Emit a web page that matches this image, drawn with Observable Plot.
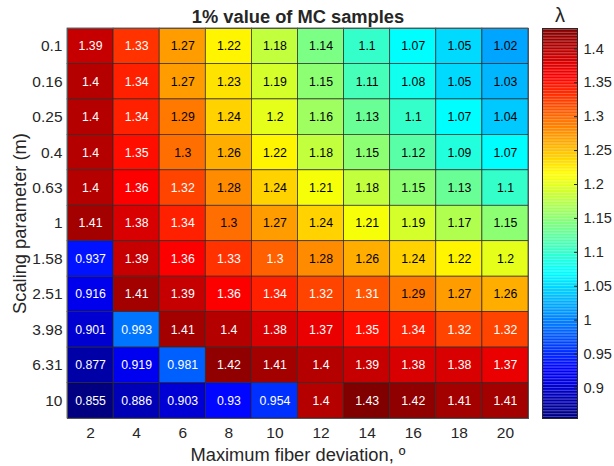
<!DOCTYPE html>
<html>
<head>
<meta charset="utf-8">
<script src="https://cdn.jsdelivr.net/npm/d3@7"></script>
<script src="https://cdn.jsdelivr.net/npm/@observablehq/plot@0.6"></script>
<style>
  html, body { margin: 0; padding: 0; background: #fff; }
  #wrap { position: relative; width: 614px; height: 466px; font-family: "Liberation Sans", Arial, sans-serif; }
  #wrap svg { position: absolute; top: 0; }
</style>
</head>
<body>
<div id="wrap"></div>
<script>
const maxDeviation = [2, 4, 6, 8, 10, 12, 14, 16, 18, 20];
const scaling = ["0.1", "0.16", "0.25", "0.4", "0.63", "1", "1.58", "2.51", "3.98", "6.31", "10"];
const row_0_1  = [1.39, 1.33, 1.27, 1.22, 1.18, 1.14, 1.1, 1.07, 1.05, 1.02];
const row_0_16 = [1.4, 1.34, 1.27, 1.23, 1.19, 1.15, 1.11, 1.08, 1.05, 1.03];
const row_0_25 = [1.4, 1.34, 1.29, 1.24, 1.2, 1.16, 1.13, 1.1, 1.07, 1.04];
const row_0_4  = [1.4, 1.35, 1.296, 1.26, 1.22, 1.18, 1.15, 1.12, 1.09, 1.07];
const row_0_63 = [1.4, 1.36, 1.32, 1.28, 1.24, 1.21, 1.18, 1.15, 1.13, 1.1];
const row_1    = [1.41, 1.38, 1.34, 1.296, 1.27, 1.24, 1.21, 1.19, 1.17, 1.15];
const row_1_58 = [0.937, 1.39, 1.36, 1.33, 1.304, 1.28, 1.26, 1.24, 1.22, 1.2];
const row_2_51 = [0.916, 1.41, 1.39, 1.36, 1.34, 1.32, 1.31, 1.29, 1.27, 1.26];
const row_3_98 = [0.901, 0.993, 1.41, 1.4, 1.38, 1.37, 1.35, 1.34, 1.32, 1.32];
const row_6_31 = [0.877, 0.919, 0.981, 1.42, 1.41, 1.4, 1.39, 1.38, 1.38, 1.37];
const row_10   = [0.855, 0.886, 0.903, 0.93, 0.954, 1.4, 1.43, 1.42, 1.41, 1.41];
const rows = [row_0_1, row_0_16, row_0_25, row_0_4, row_0_63, row_1, row_1_58, row_2_51, row_3_98, row_6_31, row_10];
const colorTicks = [0.9, 0.95, 1, 1.05, 1.1, 1.15, 1.2, 1.25, 1.3, 1.35, 1.4];
const colorLimits = [0.855, 1.43];

const table = [];
rows.forEach((r, i) => r.forEach((v, j) => table.push({x: maxDeviation[j], y: scaling[i], v})));

const clamp = (a) => Math.max(0, Math.min(1, a));
const jet = (t) => {
  const r = clamp(1.5 - Math.abs(4 * t - 3));
  const g = clamp(1.5 - Math.abs(4 * t - 2));
  const b = clamp(1.5 - Math.abs(4 * t - 1));
  return d3.rgb(r * 255, g * 255, b * 255).formatHex();
};
const colorScale = {type: "linear", domain: colorLimits, interpolate: jet, clamp: true};
const fmt = d3.format(".3~g");
const ink = "#262626";
const font = "Liberation Sans, Arial, sans-serif";

const main = Plot.plot({
  width: 614, height: 466,
  marginLeft: 67, marginRight: 86, marginTop: 28, marginBottom: 48,
  style: {fontFamily: font, color: ink, background: "transparent"},
  x: {type: "band", domain: maxDeviation, padding: 0, round: false},
  y: {type: "band", domain: scaling, padding: 0, round: false},
  color: colorScale,
  marks: [
    Plot.cell(table, {x: "x", y: "y", fill: "v", inset: 0, stroke: "#2b2b2b", strokeWidth: 0.7}),
    Plot.text(table, {x: "x", y: "y", text: d => fmt(d.v), fontSize: 12.3,
      fill: d => (d.v > 1.3 || d.v < 1.0) ? "#ffffff" : "#000000"}),
    Plot.frame({stroke: "#555", strokeWidth: 1}),
    Plot.axisX({tickSize: 0, tickPadding: 8, fontSize: 15.5, label: null}),
    Plot.axisY({tickSize: 0, tickPadding: 5, fontSize: 15.5, label: null}),
    Plot.text(["1% value of MC samples"], {frameAnchor: "top", lineAnchor: "middle", dy: -11, fontSize: 18.3, fontWeight: "bold", fill: ink}),
    Plot.text(["Maximum fiber deviation, º"], {frameAnchor: "bottom", lineAnchor: "middle", dy: 37, fontSize: 18.3, fill: ink}),
    Plot.text(["Scaling parameter (m)"], {frameAnchor: "left", textAnchor: "middle", lineAnchor: "middle", dx: -47, rotate: -90, fontSize: 18.3, fill: ink})
  ]
});

const steps = d3.range(256);
const span = colorLimits[1] - colorLimits[0];
const bar = steps.map(i => ({
  y1: colorLimits[0] + i * span / 256,
  y2: colorLimits[0] + (i + 1) * span / 256,
  v: colorLimits[0] + (i + 0.5) * span / 256
}));

const cbar = Plot.plot({
  width: 72, height: 466,
  marginLeft: 0, marginRight: 37, marginTop: 28, marginBottom: 48,
  style: {fontFamily: font, color: ink, background: "transparent", overflow: "visible"},
  x: {domain: [0, 1], axis: null},
  y: {domain: colorLimits},
  color: colorScale,
  marks: [
    Plot.rect(bar, {x1: 0, x2: 1, y1: "y1", y2: "y2", fill: "v"}),
    Plot.frame({stroke: "#262626", strokeWidth: 1}),
    Plot.axisY({anchor: "right", ticks: colorTicks, tickFormat: d3.format("~g"), tickSize: -4, tickPadding: 10, fontSize: 14.6, label: null}),
    Plot.text(["λ"], {frameAnchor: "top", lineAnchor: "middle", dy: -13, fontSize: 20, fill: ink})
  ]
});
cbar.style.left = "542px";

const wrap = document.getElementById("wrap");
wrap.appendChild(main);
wrap.appendChild(cbar);
</script>
</body>
</html>
